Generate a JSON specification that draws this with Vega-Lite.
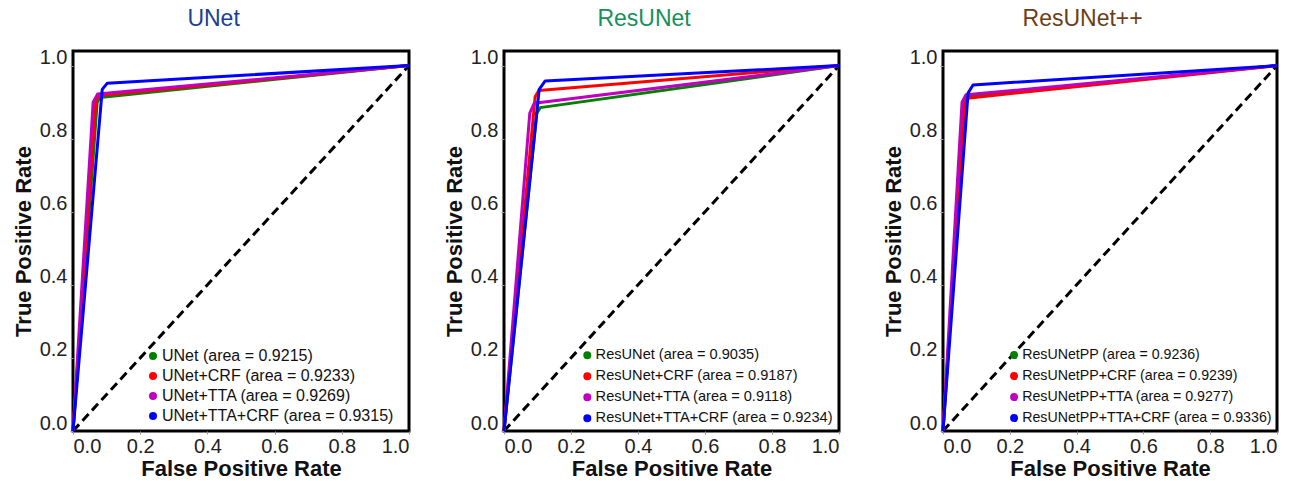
{
  "$schema": "https://vega.github.io/schema/vega-lite/v6.json",
  "background": "white",
  "padding": {"left": 10, "top": 6, "right": 5, "bottom": 1},
  "config": {
    "view": {"stroke": "black", "strokeWidth": 3},
    "font": "Liberation Sans",
    "axis": {
      "labelFont": "Liberation Sans", "labelFontSize": 20, "labelColor": "#222",
      "titleFont": "Liberation Sans", "titleFontSize": 22, "titleFontWeight": "bold", "titleColor": "#111",
      "grid": false, "domain": false, "tickSize": 3, "tickColor": "#999", "labelPadding": 3
    },
    "axisX": {"labelFlush": true, "titlePadding": 2, "labelPadding": 2},
    "axisY": {"labelOffset": -8, "titlePadding": 4},
    "title": {"font": "Liberation Sans", "fontSize": 23, "fontWeight": "normal", "anchor": "middle", "frame": "bounds", "offset": 17},
    "legend": {
      "orient": "none", "legendX": 76, "legendY": 297, "title": null,
      "symbolType": "circle", "symbolSize": 16, "symbolStrokeWidth": 4,
      "labelFont": "Liberation Sans", "labelFontSize": 16, "labelColor": "#111",
      "labelOffset": 1, "rowPadding": 0, "padding": 0, "labelLimit": 400
    }
  },
  "datasets": {
    "diag": [{"fpr": 0, "tpr": 0}, {"fpr": 1, "tpr": 1}],
    "unet": [
      {"model": "UNet (area = 0.9215)", "fpr": 0, "tpr": 0},
      {"model": "UNet (area = 0.9215)", "fpr": 0.072, "tpr": 0.9},
      {"model": "UNet (area = 0.9215)", "fpr": 0.08, "tpr": 0.913},
      {"model": "UNet (area = 0.9215)", "fpr": 1, "tpr": 1},
      {"model": "UNet+CRF (area = 0.9233)", "fpr": 0, "tpr": 0},
      {"model": "UNet+CRF (area = 0.9233)", "fpr": 0.068, "tpr": 0.905},
      {"model": "UNet+CRF (area = 0.9233)", "fpr": 0.077, "tpr": 0.918},
      {"model": "UNet+CRF (area = 0.9233)", "fpr": 1, "tpr": 1},
      {"model": "UNet+TTA (area = 0.9269)", "fpr": 0, "tpr": 0},
      {"model": "UNet+TTA (area = 0.9269)", "fpr": 0.06, "tpr": 0.9},
      {"model": "UNet+TTA (area = 0.9269)", "fpr": 0.073, "tpr": 0.922},
      {"model": "UNet+TTA (area = 0.9269)", "fpr": 1, "tpr": 1},
      {"model": "UNet+TTA+CRF (area = 0.9315)", "fpr": 0, "tpr": 0},
      {"model": "UNet+TTA+CRF (area = 0.9315)", "fpr": 0.087, "tpr": 0.935},
      {"model": "UNet+TTA+CRF (area = 0.9315)", "fpr": 0.102, "tpr": 0.952},
      {"model": "UNet+TTA+CRF (area = 0.9315)", "fpr": 1, "tpr": 1}
    ],
    "resunet": [
      {"model": "ResUNet (area = 0.9035)", "fpr": 0, "tpr": 0},
      {"model": "ResUNet (area = 0.9035)", "fpr": 0.098, "tpr": 0.87},
      {"model": "ResUNet (area = 0.9035)", "fpr": 0.108, "tpr": 0.885},
      {"model": "ResUNet (area = 0.9035)", "fpr": 1, "tpr": 1},
      {"model": "ResUNet+CRF (area = 0.9187)", "fpr": 0, "tpr": 0},
      {"model": "ResUNet+CRF (area = 0.9187)", "fpr": 0.093, "tpr": 0.915},
      {"model": "ResUNet+CRF (area = 0.9187)", "fpr": 0.104, "tpr": 0.932},
      {"model": "ResUNet+CRF (area = 0.9187)", "fpr": 1, "tpr": 1},
      {"model": "ResUNet+TTA (area = 0.9118)", "fpr": 0, "tpr": 0},
      {"model": "ResUNet+TTA (area = 0.9118)", "fpr": 0.077, "tpr": 0.87},
      {"model": "ResUNet+TTA (area = 0.9118)", "fpr": 0.09, "tpr": 0.897},
      {"model": "ResUNet+TTA (area = 0.9118)", "fpr": 1, "tpr": 1},
      {"model": "ResUNet+TTA+CRF (area = 0.9234)", "fpr": 0, "tpr": 0},
      {"model": "ResUNet+TTA+CRF (area = 0.9234)", "fpr": 0.105, "tpr": 0.935},
      {"model": "ResUNet+TTA+CRF (area = 0.9234)", "fpr": 0.123, "tpr": 0.958},
      {"model": "ResUNet+TTA+CRF (area = 0.9234)", "fpr": 1, "tpr": 1}
    ],
    "resunetpp": [
      {"model": "ResUNetPP (area = 0.9236)", "fpr": 0, "tpr": 0},
      {"model": "ResUNetPP (area = 0.9236)", "fpr": 0.065, "tpr": 0.9},
      {"model": "ResUNetPP (area = 0.9236)", "fpr": 0.074, "tpr": 0.915},
      {"model": "ResUNetPP (area = 0.9236)", "fpr": 1, "tpr": 1},
      {"model": "ResUNetPP+CRF (area = 0.9239)", "fpr": 0, "tpr": 0},
      {"model": "ResUNetPP+CRF (area = 0.9239)", "fpr": 0.064, "tpr": 0.895},
      {"model": "ResUNetPP+CRF (area = 0.9239)", "fpr": 0.074, "tpr": 0.911},
      {"model": "ResUNetPP+CRF (area = 0.9239)", "fpr": 1, "tpr": 1},
      {"model": "ResUNetPP+TTA (area = 0.9277)", "fpr": 0, "tpr": 0},
      {"model": "ResUNetPP+TTA (area = 0.9277)", "fpr": 0.057, "tpr": 0.9},
      {"model": "ResUNetPP+TTA (area = 0.9277)", "fpr": 0.069, "tpr": 0.92},
      {"model": "ResUNetPP+TTA (area = 0.9277)", "fpr": 1, "tpr": 1},
      {"model": "ResUNetPP+TTA+CRF (area = 0.9336)", "fpr": 0, "tpr": 0},
      {"model": "ResUNetPP+TTA+CRF (area = 0.9336)", "fpr": 0.075, "tpr": 0.925},
      {"model": "ResUNetPP+TTA+CRF (area = 0.9336)", "fpr": 0.09, "tpr": 0.947},
      {"model": "ResUNetPP+TTA+CRF (area = 0.9336)", "fpr": 1, "tpr": 1}
    ]
  },
  "spacing": 24,
  "resolve": {"scale": {"color": "independent", "x": "independent", "y": "independent"}, "legend": {"color": "independent"}},
  "hconcat": [
    {
      "width": 336, "height": 380,
      "title": {"text": "UNet", "color": "#1c3f94"},
      "layer": [
        {
          "data": {"name": "diag"},
          "mark": {"type": "line", "color": "black", "strokeDash": [9, 5], "strokeWidth": 3},
          "encoding": {
            "x": {"field": "fpr", "type": "quantitative"},
            "y": {"field": "tpr", "type": "quantitative"}
          }
        },
        {
          "data": {"name": "unet"},
          "mark": {"type": "line", "strokeWidth": 3, "strokeJoin": "round"},
          "encoding": {
            "x": {"field": "fpr", "type": "quantitative", "scale": {"domain": [0, 1], "nice": false}, "axis": {"title": "False Positive Rate", "values": [0, 0.2, 0.4, 0.6, 0.8, 1], "format": ".1f"}},
            "y": {"field": "tpr", "type": "quantitative", "scale": {"domain": [0, 1.04], "nice": false}, "axis": {"title": "True Positive Rate", "values": [0, 0.2, 0.4, 0.6, 0.8, 1], "format": ".1f"}},
            "color": {
              "field": "model", "type": "nominal",
              "scale": {"domain": ["UNet (area = 0.9215)", "UNet+CRF (area = 0.9233)", "UNet+TTA (area = 0.9269)", "UNet+TTA+CRF (area = 0.9315)"], "range": ["#008000", "#ff0000", "#bf00bf", "#0000ff"]},
              "legend": {"legendX": 72, "labelFontSize": 16}
            }
          }
        }
      ]
    },
    {
      "spacing": 33,
      "resolve": {"scale": {"color": "independent", "x": "independent", "y": "independent"}, "legend": {"color": "independent"}},
      "hconcat": [
        {
          "width": 335, "height": 380,
          "title": {"text": "ResUNet", "color": "#17905a"},
          "layer": [
            {
              "data": {"name": "diag"},
              "mark": {"type": "line", "color": "black", "strokeDash": [9, 5], "strokeWidth": 3},
              "encoding": {
                "x": {"field": "fpr", "type": "quantitative"},
                "y": {"field": "tpr", "type": "quantitative"}
              }
            },
            {
              "data": {"name": "resunet"},
              "mark": {"type": "line", "strokeWidth": 3, "strokeJoin": "round"},
              "encoding": {
                "x": {"field": "fpr", "type": "quantitative", "scale": {"domain": [0, 1], "nice": false}, "axis": {"title": "False Positive Rate", "values": [0, 0.2, 0.4, 0.6, 0.8, 1], "format": ".1f"}},
                "y": {"field": "tpr", "type": "quantitative", "scale": {"domain": [0, 1.04], "nice": false}, "axis": {"title": "True Positive Rate", "values": [0, 0.2, 0.4, 0.6, 0.8, 1], "format": ".1f"}},
                "color": {
                  "field": "model", "type": "nominal",
                  "scale": {"domain": ["ResUNet (area = 0.9035)", "ResUNet+CRF (area = 0.9187)", "ResUNet+TTA (area = 0.9118)", "ResUNet+TTA+CRF (area = 0.9234)"], "range": ["#008000", "#ff0000", "#bf00bf", "#0000ff"]},
                  "legend": {"legendX": 76, "labelFontSize": 14.6}
                }
              }
            }
          ]
        },
        {
          "width": 334, "height": 380,
          "title": {"text": "ResUNet++", "color": "#6b3e14"},
          "layer": [
            {
              "data": {"name": "diag"},
              "mark": {"type": "line", "color": "black", "strokeDash": [9, 5], "strokeWidth": 3},
              "encoding": {
                "x": {"field": "fpr", "type": "quantitative"},
                "y": {"field": "tpr", "type": "quantitative"}
              }
            },
            {
              "data": {"name": "resunetpp"},
              "mark": {"type": "line", "strokeWidth": 3, "strokeJoin": "round"},
              "encoding": {
                "x": {"field": "fpr", "type": "quantitative", "scale": {"domain": [0, 1], "nice": false}, "axis": {"title": "False Positive Rate", "values": [0, 0.2, 0.4, 0.6, 0.8, 1], "format": ".1f"}},
                "y": {"field": "tpr", "type": "quantitative", "scale": {"domain": [0, 1.04], "nice": false}, "axis": {"title": "True Positive Rate", "values": [0, 0.2, 0.4, 0.6, 0.8, 1], "format": ".1f"}},
                "color": {
                  "field": "model", "type": "nominal",
                  "scale": {"domain": ["ResUNetPP (area = 0.9236)", "ResUNetPP+CRF (area = 0.9239)", "ResUNetPP+TTA (area = 0.9277)", "ResUNetPP+TTA+CRF (area = 0.9336)"], "range": ["#008000", "#ff0000", "#bf00bf", "#0000ff"]},
                  "legend": {"legendX": 64, "labelFontSize": 14.2}
                }
              }
            }
          ]
        }
      ]
    }
  ]
}
